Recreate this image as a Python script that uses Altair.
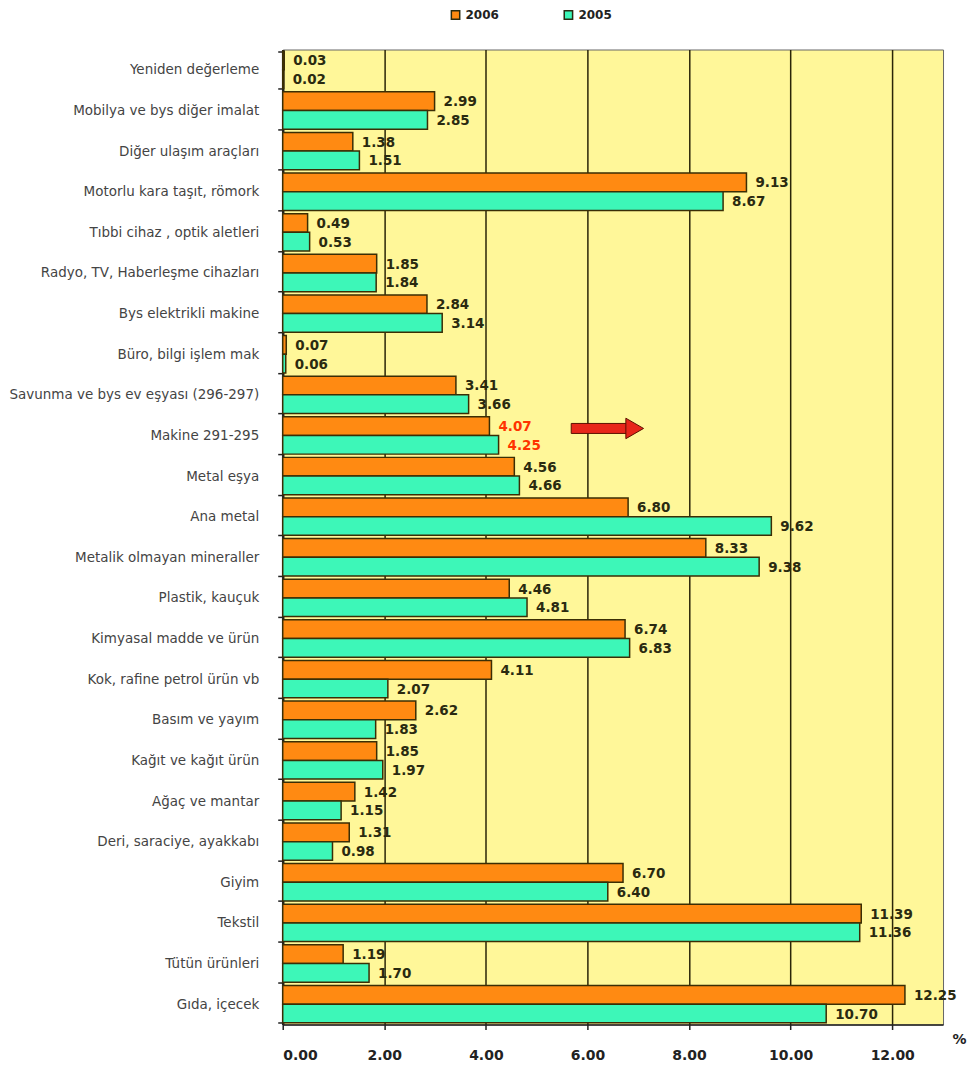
import altair as alt
import pandas as pd

categories = [
    "Yeniden değerleme",
    "Mobilya ve bys diğer imalat",
    "Diğer ulaşım araçları",
    "Motorlu kara taşıt, römork",
    "Tıbbi cihaz , optik aletleri",
    "Radyo, TV, Haberleşme cihazları",
    "Bys elektrikli makine",
    "Büro, bilgi işlem mak",
    "Savunma ve bys ev eşyası (296-297)",
    "Makine 291-295",
    "Metal eşya",
    "Ana metal",
    "Metalik olmayan mineraller",
    "Plastik, kauçuk",
    "Kimyasal madde ve ürün",
    "Kok, rafine petrol ürün vb",
    "Basım ve yayım",
    "Kağıt ve kağıt ürün",
    "Ağaç ve mantar",
    "Deri, saraciye, ayakkabı",
    "Giyim",
    "Tekstil",
    "Tütün ürünleri",
    "Gıda, içecek",
]
v2006 = [0.03, 2.99, 1.38, 9.13, 0.49, 1.85, 2.84, 0.07, 3.41, 4.07, 4.56, 6.80,
         8.33, 4.46, 6.74, 4.11, 2.62, 1.85, 1.42, 1.31, 6.70, 11.39, 1.19, 12.25]
v2005 = [0.02, 2.85, 1.51, 8.67, 0.53, 1.84, 3.14, 0.06, 3.66, 4.25, 4.66, 9.62,
         9.38, 4.81, 6.83, 2.07, 1.83, 1.97, 1.15, 0.98, 6.40, 11.36, 1.70, 10.70]
series_names = ["2006", "2005"]
x_ticks = [0, 2, 4, 6, 8, 10, 12]
highlight = "Makine 291-295"
arrow_start = [5.68]
arrow_end = [6.82]
arrow_tip = [6.93]

rows = []
for c, a, b in zip(categories, v2006, v2005):
    rows.append({"category": c, "series": series_names[0], "value": a})
    rows.append({"category": c, "series": series_names[1], "value": b})
df = pd.DataFrame(rows)

arrow_df = pd.DataFrame({"category": [highlight], "x": arrow_start, "x2": arrow_end, "tip": arrow_tip})

y_enc = alt.Y(
    "category:N", sort=categories, title=None,
    scale=alt.Scale(paddingInner=0.08, paddingOuter=0.04),
    axis=alt.Axis(
        labelFont="DejaVu Sans", labelFontSize=13.5, labelColor="#444",
        tickBand="extent", tickSize=5, tickColor="#222", tickWidth=1.5,
        domainColor="#222", domainWidth=2.5, labelPadding=19, grid=False,
        labelLimit=340,
    ),
)
yoff = alt.YOffset("series:N", sort=series_names)
x_enc = alt.X(
    "value:Q", scale=alt.Scale(domain=[0, 13], nice=False),
    axis=alt.Axis(
        values=x_ticks, format=".2f", grid=True, gridColor="#2a2508", gridWidth=1.5,
        domainColor="#222", domainWidth=1.5, tickColor="#222", tickSize=5, tickWidth=1.5,
        labelFont="DejaVu Sans", labelFontWeight="bold", labelFontSize=14,
        labelColor="#222", labelPadding=19,
        title="%", titleX=670, titleY=15, titleAlign="left", titleBaseline="middle",
        titleAngle=0, titleFont="DejaVu Sans", titleFontSize=14, titleFontWeight="bold",
        titleColor="#222",
    ),
)

bars = alt.Chart(df).mark_bar(stroke="#3a2e05", strokeWidth=1.5).encode(
    y=y_enc, yOffset=yoff, x=x_enc,
    color=alt.Color(
        "series:N",
        scale=alt.Scale(domain=series_names, range=["#FF8A12", "#3DF7B8"]),
        legend=alt.Legend(
            orient="none", legendX=167, legendY=-41, direction="horizontal",
            title=None, symbolType="square", symbolSize=70,
            symbolStrokeColor="#2a2a10", symbolStrokeWidth=1.5,
            labelFont="DejaVu Sans", labelFontWeight="bold", labelFontSize=12,
            labelColor="#222", columnPadding=61, labelOffset=4,
        ),
    ),
)

labels = alt.Chart(df).mark_text(
    align="left", baseline="middle", dx=9, dy=1, font="DejaVu Sans",
    fontWeight="bold", fontSize=13.5,
).encode(
    y=alt.Y("category:N", sort=categories),
    yOffset=yoff,
    x="value:Q",
    text=alt.Text("value:Q", format=".2f"),
    color=alt.condition(alt.datum.category == highlight, alt.value("#FF3300"), alt.value("#2a2a10")),
)

arrow_body = alt.Chart(arrow_df).mark_bar(
    height=10, color="#E8261A", stroke="#5a1000", strokeWidth=1, yOffset=-7
).encode(
    y=alt.Y("category:N", sort=categories), x="x:Q", x2="x2:Q"
)
arrow_head = alt.Chart(arrow_df).mark_point(
    shape="triangle-right", size=420, filled=True, color="#E8261A",
    stroke="#5a1000", strokeWidth=1, opacity=1, yOffset=-7
).encode(
    y=alt.Y("category:N", sort=categories), x="tip:Q"
)

chart = alt.layer(bars, labels, arrow_body, arrow_head).properties(
    width=661, height=976, padding=0
).configure_view(fill="#FFF799", stroke="#666", strokeWidth=1)

chart.save("out.html", embed_options={"renderer": "svg", "actions": False})
